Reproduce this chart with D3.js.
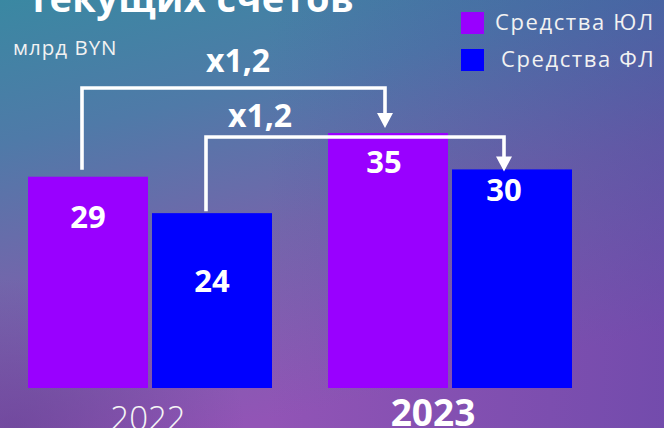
<!DOCTYPE html>
<html><head><meta charset="utf-8">
<script src="https://cdn.jsdelivr.net/npm/d3@7"></script>
<style>
html,body{margin:0;padding:0;overflow:hidden;background:#5a6aa8;}
svg{display:block;font-family:"Open Sans","Noto Sans",sans-serif;}
</style></head>
<body>
<svg id="chart" width="664" height="428"></svg>
<script>
// ---- data ----
const categories = ["2022", "2023"];
const seriesNames = ["Средства ЮЛ", "Средства ФЛ"];
const seriesColors = ["#9900ff", "#0000ff"];
const valuesUL = [29, 35];
const valuesFL = [24, 30];
const growthLabels = ["x1,2", "x1,2"];
const titleText = "текущих счетов";
const unitText = "млрд BYN";

// ---- layout ----
const W = 664, H = 428;
const svg = d3.select("#chart");
const defs = svg.append("defs");

const g1 = defs.append("linearGradient").attr("id","bg").attr("x1","0").attr("y1","0").attr("x2","0.35").attr("y2","1");
g1.append("stop").attr("offset","0").attr("stop-color","#3a88a2");
g1.append("stop").attr("offset","0.3").attr("stop-color","#4f7aa8");
g1.append("stop").attr("offset","0.6").attr("stop-color","#7366ab");
g1.append("stop").attr("offset","1").attr("stop-color","#9254b6");
const g2 = defs.append("linearGradient").attr("id","bgR").attr("x1","0").attr("y1","0").attr("x2","1").attr("y2","0");
g2.append("stop").attr("offset","0.4").attr("stop-color","#3a3c9a").attr("stop-opacity",0);
g2.append("stop").attr("offset","1").attr("stop-color","#3a3c9a").attr("stop-opacity",0.35);
const g3 = defs.append("radialGradient").attr("id","bgB").attr("cx","0.02").attr("cy","1").attr("r","0.35");
g3.append("stop").attr("offset","0").attr("stop-color","#5a3a8a").attr("stop-opacity",0.5);
g3.append("stop").attr("offset","1").attr("stop-color","#5a3a8a").attr("stop-opacity",0);

svg.append("rect").attr("width",W).attr("height",H).attr("fill","url(#bg)");
svg.append("rect").attr("width",W).attr("height",H).attr("fill","url(#bgR)");
svg.append("rect").attr("width",W).attr("height",H).attr("fill","url(#bgB)");

const x0 = d3.scaleBand().domain(categories).range([28, 572]).paddingInner(56/300).paddingOuter(0);
const x1 = d3.scaleBand().domain([0,1]).range([0, x0.bandwidth()]).paddingInner(4/124).paddingOuter(0);
const y = d3.scaleLinear().domain([0, 35]).range([388, 133]);

const rows = categories.map((c,i)=>({cat:c, vals:[valuesUL[i], valuesFL[i]]}));
const white = "#ffffff";

// title (cut off at the top, as in the reference)
svg.append("text").attr("x",28).attr("y",12).attr("fill",white)
  .attr("font-size",38).attr("font-weight",700).attr("letter-spacing",0.4).text(titleText);

svg.append("text").attr("x",13).attr("y",55).attr("fill","#f2f2f2")
  .attr("font-size",20.5).attr("letter-spacing",1).text(unitText);

// legend
const leg = svg.append("g");
seriesNames.forEach((n,i)=>{
  const ly = 12 + i*37;
  leg.append("rect").attr("x",461).attr("y",ly).attr("width",23).attr("height",22).attr("fill",seriesColors[i]);
  leg.append("text").attr("x", i===0?495:501).attr("y",ly+18).attr("fill","#f2f2f2")
    .attr("font-size",22).attr("letter-spacing",1.6).text(n);
});

// bars
const groups = svg.selectAll(".grp").data(rows).join("g").attr("class","grp")
  .attr("transform", d=>`translate(${x0(d.cat)},0)`);
groups.selectAll("rect").data(d=>d.vals.map((v,j)=>({v,j}))).join("rect")
  .attr("x", d=>x1(d.j)).attr("width", x1.bandwidth())
  .attr("y", d=>y(d.v)).attr("height", d=>y(0)-y(d.v))
  .attr("fill", d=>seriesColors[d.j]);

// value labels (offset below bar top, px)
const labelDy = [[51,79],[40,32]];
const labelDx = [[0,0],[-4,-8]];
groups.each(function(d,i){
  d3.select(this).selectAll("text.val").data(d.vals.map((v,j)=>({v,j}))).join("text").attr("class","val")
    .attr("x", e=>x1(e.j)+x1.bandwidth()/2 + labelDx[i][e.j])
    .attr("y", e=>y(e.v)+labelDy[i][e.j])
    .attr("text-anchor","middle").attr("fill",white)
    .attr("font-size",31).attr("font-weight",700).text(e=>e.v);
});

// category labels
svg.append("text").attr("x", x0("2022")+x0.bandwidth()/2-2).attr("y",430)
  .attr("text-anchor","middle").attr("fill","#f5f5f5").attr("font-size",33).attr("font-weight",300).text(categories[0]);
svg.append("text").attr("x", x0("2023")+x0.bandwidth()/2-17).attr("y",426)
  .attr("text-anchor","middle").attr("fill",white).attr("font-size",37).attr("font-weight",700).text(categories[1]);

// growth arrows
const arrows = [
  {from:[0,0], to:[1,0], startGap:7, level:88, tipGap:-5, label:growthLabels[0], lx:238, ly:72},
  {from:[0,1], to:[1,1], startGap:2, level:137, tipGap:2, label:growthLabels[1], lx:260, ly:127}
];
const valOf = (ci,si)=> si===0 ? valuesUL[ci] : valuesFL[ci];
const cx = (ci,si)=> x0(categories[ci]) + x1(si) + x1.bandwidth()/2;
const aDx = [[-6,-6],[-3,-8]];
arrows.forEach(a=>{
  const sx = cx(a.from[0],a.from[1]) + aDx[a.from[0]][a.from[1]];
  const sy = y(valOf(a.from[0],a.from[1])) - a.startGap;
  const tx = cx(a.to[0],a.to[1]) + aDx[a.to[0]][a.to[1]];
  const ty = y(valOf(a.to[0],a.to[1])) + a.tipGap;
  const head = 15;
  svg.append("path").attr("d", `M${sx},${sy} V${a.level} H${tx} V${ty-head+1}`)
    .attr("fill","none").attr("stroke",white).attr("stroke-width",3.6).attr("stroke-linejoin","miter");
  svg.append("path").attr("d", `M${tx-8},${ty-head} L${tx+8},${ty-head} L${tx},${ty} Z`).attr("fill",white);
  svg.append("text").attr("x",a.lx).attr("y",a.ly).attr("text-anchor","middle").attr("fill",white)
    .attr("font-size",32).attr("font-weight",700).text(a.label);
});
</script>
</body></html>
